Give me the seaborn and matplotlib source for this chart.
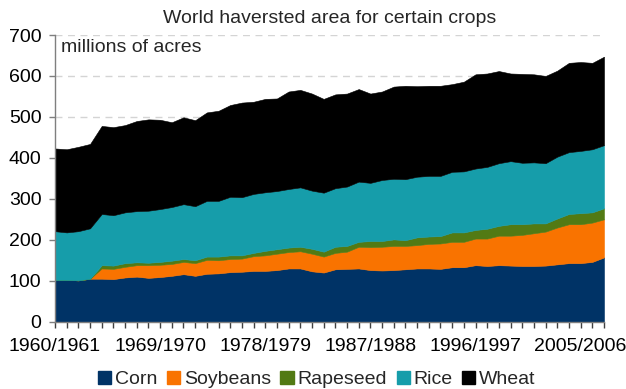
import matplotlib
matplotlib.use("Agg")
import matplotlib.pyplot as plt
from matplotlib.patches import Patch
import numpy as np
import pandas as pd
import seaborn as sns

# Crop seasons 1960/1961 .. 2007/2008
start_years = list(range(1960, 2008))
seasons = [f"{y}/{y + 1}" for y in start_years]

# Harvested area, millions of acres
corn = [102, 102, 101, 105, 105, 104, 108, 110, 107, 109, 112, 116, 112, 117, 118, 121,
        122, 124, 124, 126, 130, 130, 123, 120, 128, 129, 130, 126, 125, 126, 128, 130,
        130, 129, 133, 133, 138, 136, 138, 137, 136, 136, 137, 140, 143, 143, 146, 157]
soybeans = [0, 0, 0, 0, 25, 25, 26, 28, 31, 30, 29, 30, 31, 34, 32, 32,
            32, 36, 38, 40, 40, 42, 43, 39, 40, 42, 53, 56, 58, 59, 57, 57,
            60, 62, 62, 62, 65, 67, 72, 73, 76, 80, 83, 90, 95, 95, 96, 93]
rapeseed = [0, 0, 0, 0, 8, 8, 9, 7, 6, 7, 8, 7, 7, 8, 9, 9,
            8, 8, 11, 11, 11, 11, 12, 12, 15, 14, 12, 15, 14, 16, 14, 19,
            18, 18, 23, 23, 21, 24, 24, 28, 26, 24, 20, 22, 25, 27, 25, 27]
rice = [119, 116, 120, 123, 125, 123, 124, 125, 127, 129, 131, 134, 132, 136, 136, 143,
        142, 144, 143, 142, 143, 145, 142, 144, 143, 145, 147, 142, 149, 148, 149, 148,
        148, 147, 148, 149, 150, 151, 153, 154, 150, 149, 147, 151, 151, 152, 154, 154]
wheat = [202, 203, 206, 206, 215, 215, 213, 220, 223, 218, 207, 212, 210, 216, 220, 224,
         231, 225, 228, 226, 238, 238, 237, 229, 229, 227, 226, 218, 216, 225, 228, 221,
         220, 220, 214, 219, 230, 228, 225, 214, 217, 215, 213, 210, 218, 217, 211, 216]

crops = ["Corn", "Soybeans", "Rapeseed", "Rice", "Wheat"]
df = pd.DataFrame({"season": seasons, "Corn": corn, "Soybeans": soybeans,
                   "Rapeseed": rapeseed, "Rice": rice, "Wheat": wheat})

sns.set_theme(style="white")
plt.rcParams["font.family"] = ["Liberation Sans", "DejaVu Sans"]
palette = sns.color_palette(["#003366", "#F97300", "#527A14", "#169DAA", "#000000"])

fig = plt.figure(figsize=(6.26, 3.89), dpi=100)
ax = fig.add_axes([55 / 626, 67.3 / 389, 549 / 626, 286.7 / 389])

x = np.arange(len(df))
polys = ax.stackplot(x, *[df[c].to_numpy() for c in crops], colors=palette,
                     labels=crops, linewidth=0.4)
for p, col in zip(polys, palette):
    p.set_edgecolor(col)

ax.set_xlim(0, len(df) - 1)
ax.set_ylim(0, 700)
ax.set_yticks(range(0, 701, 100))
ax.set_xticks(x)
ax.set_xticklabels([s if i % 9 == 0 else "" for i, s in enumerate(df["season"])])

ax.set_axisbelow(True)
ax.yaxis.grid(True, color="#d4d4d4", linestyle=(0, (5, 4)), linewidth=1.0)
ax.xaxis.grid(False)

for side in ["top", "right"]:
    ax.spines[side].set_visible(False)
for side in ["left", "bottom"]:
    ax.spines[side].set_color("#7f7f7f")
    ax.spines[side].set_linewidth(1.0)

ax.tick_params(axis="x", length=4, width=1, color="#404040", direction="out",
               pad=7.5, labelsize=14, labelcolor="black", bottom=True)
ax.tick_params(axis="y", length=4.3, width=1, color="#7f7f7f", direction="out",
               pad=5.5, labelsize=14, labelcolor="black", left=True)

ax.set_title("World haversted area for certain crops", fontsize=14, pad=9)
ax.text(0.011, 0.955, "millions of acres", transform=ax.transAxes,
        fontsize=14, ha="left", va="center")

handles = [Patch(facecolor=c, edgecolor=c) for c in palette]
fig.legend(handles, crops, loc="center", bbox_to_anchor=(0.506, 0.025), ncol=5,
           frameon=False, fontsize=14, handlelength=0.67, handleheight=0.67,
           handletextpad=0.2, columnspacing=0.5, borderaxespad=0, borderpad=0)

fig.savefig("out.png", dpi=100)
